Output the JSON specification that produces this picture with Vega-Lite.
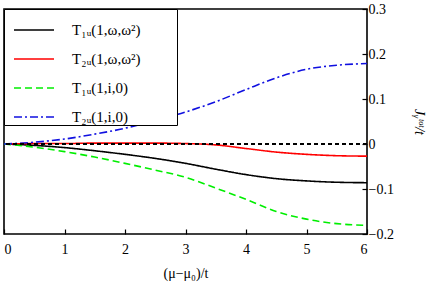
{
  "$schema": "https://vega.github.io/schema/vega-lite/v6.json",
  "width": 363,
  "height": 225,
  "autosize": {"type": "none"},
  "padding": {"left": 4, "top": 9, "right": 69, "bottom": 51},
  "background": "white",
  "config": {
    "view": {"stroke": "black", "strokeWidth": 1.6},
    "font": "Liberation Serif",
    "axis": {
      "grid": false,
      "domain": false,
      "tickColor": "black",
      "tickWidth": 1.2,
      "labelColor": "black",
      "titleColor": "black",
      "labelFont": "Liberation Serif",
      "titleFont": "Liberation Serif",
      "labelFontSize": 14,
      "titleFontSize": 14,
      "titleFontWeight": "normal"
    },
    "legend": {
      "labelFont": "Liberation Serif",
      "labelFontSize": 15,
      "labelColor": "black"
    }
  },
  "data": {
    "values": [
      {"x": 0, "y": 0, "s": "T₁ᵤ(1,ω,ω²)"},
      {"x": 0.5, "y": -0.003, "s": "T₁ᵤ(1,ω,ω²)"},
      {"x": 1, "y": -0.008, "s": "T₁ᵤ(1,ω,ω²)"},
      {"x": 1.5, "y": -0.015, "s": "T₁ᵤ(1,ω,ω²)"},
      {"x": 2, "y": -0.023, "s": "T₁ᵤ(1,ω,ω²)"},
      {"x": 2.5, "y": -0.032, "s": "T₁ᵤ(1,ω,ω²)"},
      {"x": 3, "y": -0.043, "s": "T₁ᵤ(1,ω,ω²)"},
      {"x": 3.5, "y": -0.056, "s": "T₁ᵤ(1,ω,ω²)"},
      {"x": 4, "y": -0.068, "s": "T₁ᵤ(1,ω,ω²)"},
      {"x": 4.5, "y": -0.077, "s": "T₁ᵤ(1,ω,ω²)"},
      {"x": 5, "y": -0.082, "s": "T₁ᵤ(1,ω,ω²)"},
      {"x": 5.5, "y": -0.085, "s": "T₁ᵤ(1,ω,ω²)"},
      {"x": 6, "y": -0.086, "s": "T₁ᵤ(1,ω,ω²)"},
      {"x": 0, "y": 0, "s": "T₂ᵤ(1,ω,ω²)"},
      {"x": 0.5, "y": 0.001, "s": "T₂ᵤ(1,ω,ω²)"},
      {"x": 1, "y": 0.001, "s": "T₂ᵤ(1,ω,ω²)"},
      {"x": 1.5, "y": 0.002, "s": "T₂ᵤ(1,ω,ω²)"},
      {"x": 2, "y": 0.002, "s": "T₂ᵤ(1,ω,ω²)"},
      {"x": 2.5, "y": 0.002, "s": "T₂ᵤ(1,ω,ω²)"},
      {"x": 3, "y": 0.001, "s": "T₂ᵤ(1,ω,ω²)"},
      {"x": 3.5, "y": -0.002, "s": "T₂ᵤ(1,ω,ω²)"},
      {"x": 4, "y": -0.010, "s": "T₂ᵤ(1,ω,ω²)"},
      {"x": 4.5, "y": -0.018, "s": "T₂ᵤ(1,ω,ω²)"},
      {"x": 5, "y": -0.023, "s": "T₂ᵤ(1,ω,ω²)"},
      {"x": 5.5, "y": -0.026, "s": "T₂ᵤ(1,ω,ω²)"},
      {"x": 6, "y": -0.027, "s": "T₂ᵤ(1,ω,ω²)"},
      {"x": 0, "y": 0, "s": "T₁ᵤ(1,i,0)"},
      {"x": 0.5, "y": -0.007, "s": "T₁ᵤ(1,i,0)"},
      {"x": 1, "y": -0.017, "s": "T₁ᵤ(1,i,0)"},
      {"x": 1.5, "y": -0.029, "s": "T₁ᵤ(1,i,0)"},
      {"x": 2, "y": -0.043, "s": "T₁ᵤ(1,i,0)"},
      {"x": 2.5, "y": -0.058, "s": "T₁ᵤ(1,i,0)"},
      {"x": 3, "y": -0.074, "s": "T₁ᵤ(1,i,0)"},
      {"x": 3.5, "y": -0.098, "s": "T₁ᵤ(1,i,0)"},
      {"x": 4, "y": -0.123, "s": "T₁ᵤ(1,i,0)"},
      {"x": 4.5, "y": -0.150, "s": "T₁ᵤ(1,i,0)"},
      {"x": 5, "y": -0.167, "s": "T₁ᵤ(1,i,0)"},
      {"x": 5.5, "y": -0.177, "s": "T₁ᵤ(1,i,0)"},
      {"x": 6, "y": -0.181, "s": "T₁ᵤ(1,i,0)"},
      {"x": 0, "y": 0, "s": "T₂ᵤ(1,i,0)"},
      {"x": 0.5, "y": 0.004, "s": "T₂ᵤ(1,i,0)"},
      {"x": 1, "y": 0.011, "s": "T₂ᵤ(1,i,0)"},
      {"x": 1.5, "y": 0.022, "s": "T₂ᵤ(1,i,0)"},
      {"x": 2, "y": 0.035, "s": "T₂ᵤ(1,i,0)"},
      {"x": 2.5, "y": 0.052, "s": "T₂ᵤ(1,i,0)"},
      {"x": 3, "y": 0.071, "s": "T₂ᵤ(1,i,0)"},
      {"x": 3.5, "y": 0.094, "s": "T₂ᵤ(1,i,0)"},
      {"x": 4, "y": 0.121, "s": "T₂ᵤ(1,i,0)"},
      {"x": 4.5, "y": 0.147, "s": "T₂ᵤ(1,i,0)"},
      {"x": 5, "y": 0.166, "s": "T₂ᵤ(1,i,0)"},
      {"x": 5.5, "y": 0.175, "s": "T₂ᵤ(1,i,0)"},
      {"x": 6, "y": 0.179, "s": "T₂ᵤ(1,i,0)"}
    ]
  },
  "layer": [
    {
      "mark": {"type": "line", "strokeWidth": 1.6, "interpolate": "monotone", "clip": true},
      "encoding": {
        "x": {
          "field": "x", "type": "quantitative",
          "scale": {"domain": [0, 6], "nice": false, "zero": false},
          "axis": {
            "values": [0, 1, 2, 3, 4, 5, 6],
            "tickSize": -5,
            "labelPadding": 13,
            "title": "(μ−μ₀)/t",
            "titlePadding": 10,
            "format": "d"
          }
        },
        "y": {
          "field": "y", "type": "quantitative",
          "scale": {"domain": [-0.2, 0.3], "nice": false, "zero": false},
          "axis": {
            "orient": "right",
            "values": [-0.2, -0.1, 0, 0.1, 0.2, 0.3],
            "tickSize": -5,
            "labelPadding": 6,
            "labelExpr": "datum.value == 0 ? '0' : format(datum.value, '.1f')",
            "title": "Jᵧᵗᵒᵗ/t",
            "titleAngle": 90,
            "titlePadding": 18,
            "titleFontStyle": "italic"
          }
        },
        "color": {
          "field": "s", "type": "nominal",
          "scale": {
            "domain": ["T₁ᵤ(1,ω,ω²)", "T₂ᵤ(1,ω,ω²)", "T₁ᵤ(1,i,0)", "T₂ᵤ(1,i,0)"],
            "range": ["#000000", "#ff0000", "#00ee00", "#1010e0"]
          },
          "legend": {
            "title": null,
            "orient": "top-left",
            "offset": 0,
            "padding": 0,
            "strokeColor": "black",
            "fillColor": "white",
            "symbolType": "stroke",
            "symbolSize": 1600,
            "symbolStrokeWidth": 1.6,
            "symbolOffset": 9,
            "rowPadding": -10,
            "labelOffset": 17,
            "labelExpr": "datum.label + '\u2009\u2800\u2800\u2800'"
          }
        },
        "strokeDash": {
          "field": "s", "type": "nominal",
          "scale": {
            "domain": ["T₁ᵤ(1,ω,ω²)", "T₂ᵤ(1,ω,ω²)", "T₁ᵤ(1,i,0)", "T₂ᵤ(1,i,0)"],
            "range": [[1, 0], [1, 0], [7, 4], [8, 3, 2, 3]]
          },
          "legend": {
            "title": null,
            "orient": "top-left",
            "offset": 0,
            "padding": 0,
            "strokeColor": "black",
            "fillColor": "white",
            "symbolType": "stroke",
            "symbolSize": 1600,
            "symbolStrokeWidth": 1.6,
            "symbolOffset": 9,
            "rowPadding": -10,
            "labelOffset": 17,
            "labelExpr": "datum.label + '\u2009\u2800\u2800\u2800'"
          }
        }
      }
    },
    {
      "mark": {"type": "rule", "color": "black", "strokeWidth": 1.6, "strokeDash": [4, 3]},
      "encoding": {"y": {"datum": 0}}
    }
  ]
}
